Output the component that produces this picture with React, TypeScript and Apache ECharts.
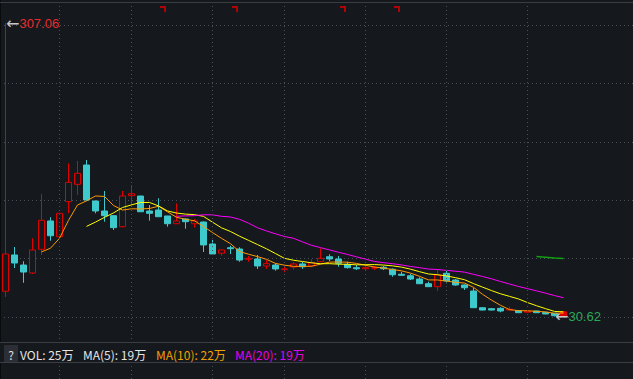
import React, { useEffect, useRef } from "react";
import * as echarts from "echarts";

// ---------- data ----------
const categories: string[] = Array.from({ length: 70 }, (_, i) => `W${i + 1}`);

// [open, close, low, high]
const ohlc: number[][] = [
  [54.4, 89.5, 49.0, 307.06],
  [88.6, 81.0, 76.3, 96.1],
  [79.1, 72.5, 62.4, 82.6],
  [71.6, 93.3, 70.7, 104.3],
  [93.9, 121.2, 88.6, 146.0],
  [120.6, 106.7, 102.0, 124.1],
  [105.8, 127.8, 104.3, 128.0],
  [138.8, 157.0, 127.8, 174.9],
  [155.1, 165.5, 145.1, 177.1],
  [173.3, 140.4, 139.5, 178.0],
  [139.4, 130.0, 127.8, 139.8],
  [130.0, 125.6, 119.9, 148.8],
  [125.6, 114.3, 112.1, 125.8],
  [115.2, 144.1, 114.5, 148.8],
  [144.4, 146.3, 135.6, 154.5],
  [144.1, 129.3, 129.0, 144.3],
  [130.0, 127.8, 120.9, 135.6],
  [130.9, 124.6, 124.4, 142.0],
  [125.3, 118.0, 115.2, 125.4],
  [118.0, 120.6, 117.7, 137.2],
  [122.5, 119.9, 113.3, 122.9],
  [118.0, 120.6, 114.3, 122.5],
  [119.6, 98.0, 91.4, 120.1],
  [98.9, 89.5, 89.0, 102.7],
  [90.2, 93.3, 87.9, 93.7],
  [95.4, 94.5, 89.5, 97.3],
  [94.2, 83.8, 82.2, 95.8],
  [84.5, 85.4, 82.2, 87.6],
  [84.8, 78.2, 75.4, 88.6],
  [78.2, 80.4, 75.4, 83.8],
  [79.1, 75.4, 73.8, 80.7],
  [74.7, 75.4, 72.3, 77.5],
  [77.2, 80.1, 74.9, 82.0],
  [80.1, 77.5, 75.4, 82.0],
  [78.2, 81.3, 77.0, 84.5],
  [82.2, 85.4, 81.9, 94.9],
  [86.9, 84.8, 82.9, 89.2],
  [84.8, 80.7, 77.5, 87.6],
  [79.8, 76.6, 75.8, 82.2],
  [76.6, 75.6, 74.4, 79.1],
  [75.6, 76.6, 74.4, 78.9],
  [76.1, 76.6, 74.4, 78.2],
  [77.0, 75.6, 74.4, 78.2],
  [75.1, 70.0, 68.1, 76.0],
  [70.4, 69.4, 69.0, 72.8],
  [69.0, 65.9, 65.0, 70.7],
  [65.9, 61.5, 61.2, 67.5],
  [61.5, 58.7, 58.6, 63.4],
  [58.7, 69.7, 54.6, 74.4],
  [71.3, 64.1, 61.9, 73.5],
  [65.0, 60.3, 59.6, 65.9],
  [60.3, 57.7, 55.6, 60.8],
  [54.6, 38.9, 38.6, 57.7],
  [38.9, 36.7, 36.4, 39.1],
  [38.0, 36.7, 36.4, 38.6],
  [38.3, 35.8, 34.6, 39.3],
  [36.7, 37.4, 36.4, 39.9],
  [36.1, 34.2, 33.9, 36.3],
  [34.6, 35.8, 34.4, 36.0],
  [35.8, 34.2, 33.9, 36.0],
  [34.6, 33.0, 32.7, 34.9],
  [33.6, 31.4, 30.62, 33.9],
  [31.1, 35.1, 31.0, 35.3],
];

const ma5: (number | string)[] = [
  "-", "-", "-", "-",
  91.5, 94.94, 104.3, 121.2, 135.64, 139.48, 144.14, 143.7, 135.16, 130.88,
  132.06, 131.92, 132.36, 134.42, 129.2, 124.06, 122.18, 120.74, 115.42, 109.72,
  104.26, 99.18, 91.82, 89.3, 87.04, 84.46, 80.64, 78.96, 77.9, 77.76,
  77.94, 79.94, 81.82, 81.94, 81.76, 80.62, 78.86, 77.22, 76.2, 74.88,
  73.64, 71.5, 68.48, 65.1, 65.04, 63.98, 62.86, 62.1, 58.14, 51.54,
  46.06, 41.16, 37.1, 36.16, 35.98, 35.48, 34.92, 33.72, 33.9,
];

const ma10: (number | string)[] = [
  "-", "-", "-", "-", "-", "-", "-", "-", "-",
  115.49, 119.54, 124.0, 128.18, 133.26, 135.77, 138.03, 138.03, 134.79, 130.04,
  128.06, 127.05, 126.55, 124.92, 119.46, 114.16, 110.68, 106.28, 102.36, 98.38,
  94.36, 89.91, 85.39, 83.6, 82.4, 81.2, 80.29, 80.39, 79.92, 79.76,
  79.28, 79.4, 79.52, 79.07, 78.32, 77.13, 75.18, 72.85, 70.65, 69.96,
  68.81, 67.18, 65.29, 61.62, 58.29, 55.02, 52.01, 49.6, 47.15, 43.76,
  40.77, 38.04, 35.41, 35.03,
];

const ma20: (number | string)[] = [
  "-", "-", "-", "-", "-", "-", "-", "-", "-", "-",
  "-", "-", "-", "-", "-", "-", "-", "-", "-",
  125.0, 125.4, 125.6, 126.4, 126.36, 124.97, 124.36, 122.16, 118.58, 114.21,
  111.21, 108.48, 105.97, 104.26, 100.93, 97.68, 95.49, 93.34, 91.14, 89.07,
  86.82, 84.66, 82.46, 81.34, 80.36, 79.17, 77.74, 76.62, 75.29, 74.86,
  74.05, 73.29, 72.41, 70.35, 68.31, 66.08, 63.6, 61.23, 58.9, 56.86,
  54.79, 52.61, 50.34, 48.32,
];

// short green reference segment at the right
const guideIdx = [59, 60, 61, 62];
const guideVal = [87.1, 86.4, 85.7, 85.2];

// event flags at the top
const eventIdx = [18, 26, 38, 44];
const eventLevel = 320.2;

// period boundaries (vertical dotted lines)
const periodIdx = [6, 14, 23, 31, 40, 49, 58];

const highPoint = { idx: 0, value: 307.06 };
const lowPoint = { idx: 61, value: 30.62 };

const volLabels = ["VOL: ", "MA(5): ", "MA(10): ", "MA(20): "];
const volValues = ["25万", "19万", "22万", "19万"];

const priceMin = 6.6;
const priceMax = 325.9;

// ---------- styles ----------
const BG = "#15181d";
const UP = "#e00000";
const DOWN = "#3ec9cc";
const GRID = "#4a4e56";
const legendColors = ["#e6e6e6", "#e6e6e6", "#f0a000", "#e600e6"];
const legendX = [20, 83, 156, 235];
const NUM_FONT = '"Liberation Sans", Arial, sans-serif';

export default function App() {
  const ref = useRef<HTMLDivElement>(null);

  useEffect(() => {
    if (!ref.current) return;
    const chart = echarts.init(ref.current, undefined, { renderer: "svg" });

    const candleData = ohlc.map((d, i) =>
      i === ohlc.length - 1 ? { value: d, itemStyle: { color: UP } } : d
    );

    const option: any = {
      animation: false,
      backgroundColor: BG,
      grid: [
        { left: 1, width: 630, top: 3, height: 339 },
        { left: 0, right: 0, top: 25, height: 292 },
        { left: 1, width: 630, top: 3, bottom: 0 },
      ],
      xAxis: [
        { gridIndex: 0, type: "category", data: categories, boundaryGap: true, show: false },
        { gridIndex: 1, type: "value", min: 0, max: 1, show: false },
        { gridIndex: 2, type: "category", data: categories, boundaryGap: true, show: false },
      ],
      yAxis: [
        { gridIndex: 0, type: "value", min: priceMin, max: priceMax, show: false },
        {
          gridIndex: 1,
          type: "value",
          min: 0,
          max: 5,
          interval: 1,
          axisLine: { show: false },
          axisTick: { show: false },
          axisLabel: { show: false },
          splitLine: { show: true, lineStyle: { color: GRID, type: [1, 3], width: 1 } },
        },
        { gridIndex: 2, type: "value", min: 0, max: 1, show: false },
      ],
      series: [
        {
          type: "line",
          xAxisIndex: 2,
          yAxisIndex: 2,
          data: categories.map(() => 0.5),
          symbol: "none",
          lineStyle: { opacity: 0 },
          silent: true,
          z: 0,
          markLine: {
            silent: true,
            symbol: ["none", "none"],
            label: { show: false },
            lineStyle: { color: GRID, type: [1, 3], width: 1 },
            data: periodIdx.map((i) => ({ xAxis: i })),
          },
        },
        {
          type: "candlestick",
          xAxisIndex: 0,
          yAxisIndex: 0,
          data: candleData,
          barWidth: 7,
          itemStyle: {
            color: BG,
            color0: DOWN,
            borderColor: UP,
            borderColor0: DOWN,
            borderWidth: 1,
          },
          markPoint: {
            symbol: "circle",
            symbolSize: 1,
            itemStyle: { color: "transparent" },
            silent: true,
            data: [
              {
                coord: [highPoint.idx, highPoint.value],
                label: {
                  show: true,
                  position: "right",
                  distance: 0,
                  formatter: `{a|←}{r|${highPoint.value.toFixed(2)}}`,
                  rich: {
                    a: { color: "#c8c8c8", fontSize: 16, fontFamily: "DejaVu Sans" },
                    r: { color: "#e52b2b", fontSize: 13, fontFamily: NUM_FONT },
                  },
                },
              },
              {
                coord: [lowPoint.idx, lowPoint.value],
                label: {
                  show: true,
                  position: "right",
                  distance: 0,
                  formatter: `{a|←}{g|${lowPoint.value.toFixed(2)}}`,
                  rich: {
                    a: { color: "#c8c8c8", fontSize: 16, fontFamily: "DejaVu Sans" },
                    g: { color: "#2aa85a", fontSize: 13, fontFamily: NUM_FONT },
                  },
                },
              },
            ],
          },
        },
        {
          type: "line",
          xAxisIndex: 0,
          yAxisIndex: 0,
          data: ma5,
          symbol: "none",
          lineStyle: { color: "#ff9900", width: 1 },
        },
        {
          type: "line",
          xAxisIndex: 0,
          yAxisIndex: 0,
          data: ma10,
          symbol: "none",
          lineStyle: { color: "#ffff00", width: 1 },
        },
        {
          type: "line",
          xAxisIndex: 0,
          yAxisIndex: 0,
          data: ma20,
          symbol: "none",
          lineStyle: { color: "#ff00ff", width: 1 },
        },
        {
          type: "line",
          xAxisIndex: 0,
          yAxisIndex: 0,
          data: guideIdx.map((i, k) => [i, guideVal[k]]),
          symbol: "none",
          lineStyle: { color: "#10a010", width: 1.5 },
        },
        {
          type: "scatter",
          xAxisIndex: 0,
          yAxisIndex: 0,
          data: eventIdx.map((i) => [i, eventLevel]),
          symbol: "path://M0,0H6V6H4V2H0Z",
          symbolSize: [6, 6],
          symbolOffset: [-4.5, 0],
          itemStyle: { color: "#d40000" },
          silent: true,
        },
      ],
      graphic: [
        { type: "rect", shape: { x: 0, y: 0, width: 1, height: 379 }, style: { fill: "#0a0b0d" }, z: 50 },
        { type: "line", shape: { x1: 0, y1: 2.5, x2: 633, y2: 2.5 }, style: { stroke: "#3a3d43", lineWidth: 1 }, z: 50 },
        { type: "rect", shape: { x: 0, y: 343, width: 633, height: 20 }, style: { fill: BG }, z: 100 },
        { type: "line", shape: { x1: 0, y1: 342.5, x2: 633, y2: 342.5 }, style: { stroke: "#3a3d43", lineWidth: 1 }, z: 101 },
        { type: "line", shape: { x1: 0, y1: 362.5, x2: 633, y2: 362.5 }, style: { stroke: "#3a3d43", lineWidth: 1 }, z: 101 },
        { type: "rect", shape: { x: 4, y: 345, width: 14, height: 17 }, style: { fill: "#2b2e35" }, z: 101 },
        {
          type: "text",
          z: 102,
          style: {
            text: "?",
            x: 11,
            y: 354,
            align: "center",
            verticalAlign: "middle",
            fill: "#e0e0e0",
            font: '12px "Noto Sans CJK SC"',
          },
        },
        ...volLabels.map((lab, k) => ({
          type: "text",
          z: 102,
          style: {
            text: lab + volValues[k],
            x: legendX[k],
            y: 354,
            align: "left",
            verticalAlign: "middle",
            fill: legendColors[k],
            font: '12px "Noto Sans CJK SC"',
          },
        })),
      ],
    };

    chart.setOption(option);
    return () => chart.dispose();
  }, []);

  return (
    <div
      ref={ref}
      style={{ position: "fixed", left: 0, top: 0, width: 633, height: 379 }}
    />
  );
}
